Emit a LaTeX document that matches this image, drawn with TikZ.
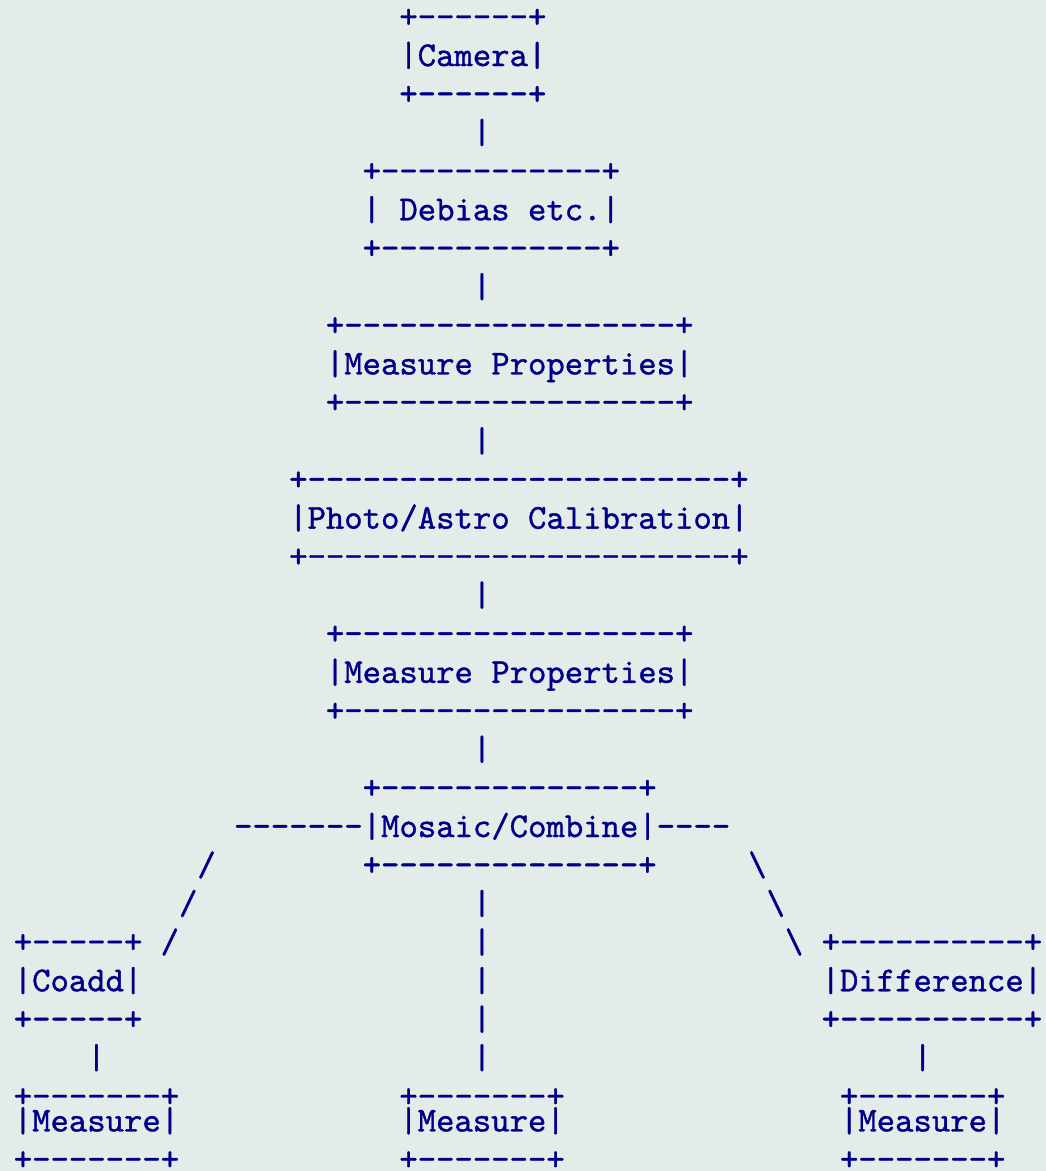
\documentclass[tikz,border=0pt]{standalone}
\usepackage{xcolor}
\usepackage{fontspec}
\usepackage{tikz}
\newfontfamily\asciifont{lmmono10-regular.otf}[Ligatures=TeXOff, FakeBold=1]
\definecolor{asciiblue}{RGB}{0,0,136}
\definecolor{paper}{RGB}{227,236,232}
\tikzset{
  ascii/.style={anchor=base west, inner sep=0pt, outer sep=0pt, text=asciiblue,
    font=\fontsize{35}{42}\selectfont\asciifont}
}
% column c, row r of the character grid
\newcommand{\cellx}[1]{13.8+18.36*#1}
\newcommand{\celly}[1]{27.5+38.55*(#1-1)}

\begin{document}
\begin{tikzpicture}[x=1pt, y=-1pt]
  \fill[paper] (0,0) rectangle (1046,1171);
  \useasboundingbox (0,0) rectangle (1046,1171);

  \node[ascii] (camtop)  at ({\cellx{21}},{\celly{1}}) {+------+};
  \node[ascii] (camera)  at ({\cellx{21}},{\celly{2}}) {|Camera|};
  \node[ascii] (cambot)  at ({\cellx{21}},{\celly{3}}) {+------+};
  \node[ascii] (link1)   at ({\cellx{25}},{\celly{4}}) {|};
  \node[ascii] (debtop)  at ({\cellx{19}},{\celly{5}}) {+------------+};
  \node[ascii] (debias)  at ({\cellx{19}},{\celly{6}}) {| Debias etc.|};
  \node[ascii] (debbot)  at ({\cellx{19}},{\celly{7}}) {+------------+};
  \node[ascii] (link2)   at ({\cellx{25}},{\celly{8}}) {|};
  \node[ascii] (meatop)  at ({\cellx{17}},{\celly{9}}) {+------------------+};
  \node[ascii] (measure) at ({\cellx{17}},{\celly{10}}) {|Measure Properties|};
  \node[ascii] (meabot)  at ({\cellx{17}},{\celly{11}}) {+------------------+};
  \node[ascii] (link3)   at ({\cellx{25}},{\celly{12}}) {|};
  \node[ascii] (caltop)  at ({\cellx{15}},{\celly{13}}) {+-----------------------+};
  \node[ascii] (calib)   at ({\cellx{15}},{\celly{14}}) {|Photo/Astro Calibration|};
  \node[ascii] (calbot)  at ({\cellx{15}},{\celly{15}}) {+-----------------------+};
  \node[ascii] (link4)   at ({\cellx{25}},{\celly{16}}) {|};
  \node[ascii] (mea2top) at ({\cellx{17}},{\celly{17}}) {+------------------+};
  \node[ascii] (measure2) at ({\cellx{17}},{\celly{18}}) {|Measure Properties|};
  \node[ascii] (mea2bot) at ({\cellx{17}},{\celly{19}}) {+------------------+};
  \node[ascii] (link5)   at ({\cellx{25}},{\celly{20}}) {|};
  \node[ascii] (mostop)  at ({\cellx{19}},{\celly{21}}) {+--------------+};
  \node[ascii] (mosaic)  at ({\cellx{12}},{\celly{22}}) {-------|Mosaic/Combine|----};
  \node[ascii] (left1)   at ({\cellx{10}},{\celly{23}}) {/};
  \node[ascii] (mosbot)  at ({\cellx{19}},{\celly{23}}) {+--------------+};
  \node[ascii] (right1)  at ({\cellx{40}},{\celly{23}}) {\textbackslash};
  \node[ascii] (left2)   at ({\cellx{9}},{\celly{24}}) {/};
  \node[ascii] (mid1)    at ({\cellx{25}},{\celly{24}}) {|};
  \node[ascii] (right2)  at ({\cellx{41}},{\celly{24}}) {\textbackslash};
  % three branches
  \node[ascii] (cotop)   at ({\cellx{0}},{\celly{25}}) {+-----+};
  \node[ascii] (left3)   at ({\cellx{8}},{\celly{25}}) {/};
  \node[ascii] (mid2)    at ({\cellx{25}},{\celly{25}}) {|};
  \node[ascii] (right3)  at ({\cellx{42}},{\celly{25}}) {\textbackslash};
  \node[ascii] (diftop)  at ({\cellx{44}},{\celly{25}}) {+----------+};
  \node[ascii] (coadd)   at ({\cellx{0}},{\celly{26}}) {|Coadd|};
  \node[ascii] (mid3)    at ({\cellx{25}},{\celly{26}}) {|};
  \node[ascii] (diff)    at ({\cellx{44}},{\celly{26}}) {|Difference|};
  \node[ascii] (cobot)   at ({\cellx{0}},{\celly{27}}) {+-----+};
  \node[ascii] (mid4)    at ({\cellx{25}},{\celly{27}}) {|};
  \node[ascii] (difbot)  at ({\cellx{44}},{\celly{27}}) {+----------+};
  \node[ascii] (colink)  at ({\cellx{4}},{\celly{28}}) {|};
  \node[ascii] (mid5)    at ({\cellx{25}},{\celly{28}}) {|};
  \node[ascii] (diflink) at ({\cellx{49}},{\celly{28}}) {|};
  \node[ascii] (mAtop)   at ({\cellx{0}},{\celly{29}}) {+-------+};
  \node[ascii] (mBtop)   at ({\cellx{21}},{\celly{29}}) {+-------+};
  \node[ascii] (mCtop)   at ({\cellx{45}},{\celly{29}}) {+-------+};
  \node[ascii] (mA)      at ({\cellx{0}},{\celly{30}-14}) {|Measure|};
  \node[ascii] (mB)      at ({\cellx{21}},{\celly{30}-14}) {|Measure|};
  \node[ascii] (mC)      at ({\cellx{45}},{\celly{30}-14}) {|Measure|};
  \node[ascii] (mAbot)   at ({\cellx{0}},{\celly{31}-14}) {+-------+};
  \node[ascii] (mBbot)   at ({\cellx{21}},{\celly{31}-14}) {+-------+};
  \node[ascii] (mCbot)   at ({\cellx{45}},{\celly{31}-14}) {+-------+};
\end{tikzpicture}
\end{document}
